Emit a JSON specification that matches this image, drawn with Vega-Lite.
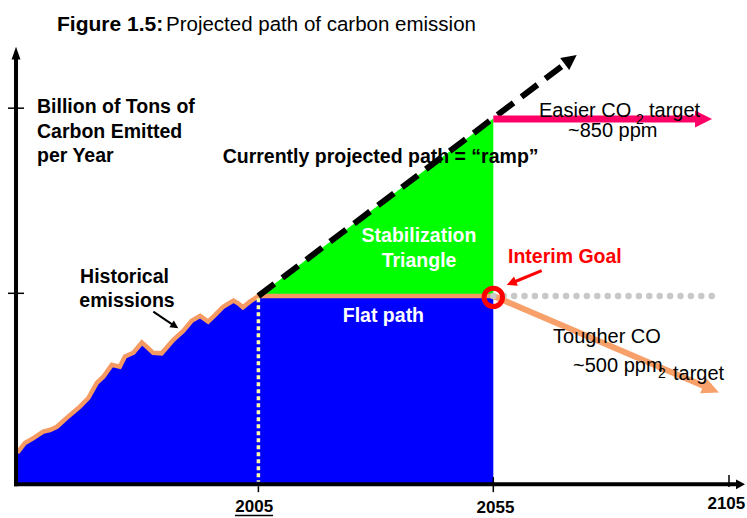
{
  "$schema": "https://vega.github.io/schema/vega-lite/v6.json",
  "width": 747,
  "height": 518,
  "autosize": {"type": "fit", "contains": "padding"},
  "padding": 0,
  "background": "white",
  "config": {"view": {"stroke": null}, "text": {"font": "Liberation Sans"}},
  "datasets": {
    "emissions": [
      {"x": 1953.7, "y": 1.18}, {"x": 1955.3, "y": 1.54}, {"x": 1957.1, "y": 1.72}, {"x": 1959.2, "y": 1.96},
      {"x": 1960.6, "y": 2.02}, {"x": 1962.1, "y": 2.14}, {"x": 1964.2, "y": 2.47}, {"x": 1967.0, "y": 2.89},
      {"x": 1968.8, "y": 3.21}, {"x": 1970.6, "y": 3.77}, {"x": 1972.0, "y": 4.0}, {"x": 1973.8, "y": 4.44},
      {"x": 1975.5, "y": 4.37}, {"x": 1976.6, "y": 4.75}, {"x": 1978.4, "y": 4.89}, {"x": 1980.2, "y": 5.27},
      {"x": 1981.2, "y": 5.12}, {"x": 1982.6, "y": 4.89}, {"x": 1984.4, "y": 4.87}, {"x": 1986.9, "y": 5.37},
      {"x": 1989.0, "y": 5.7}, {"x": 1990.8, "y": 6.08}, {"x": 1992.6, "y": 6.26}, {"x": 1994.3, "y": 6.05},
      {"x": 1995.8, "y": 6.3}, {"x": 1997.5, "y": 6.6}, {"x": 1999.7, "y": 6.83}, {"x": 2000.7, "y": 6.73},
      {"x": 2001.7, "y": 6.58}, {"x": 2003.2, "y": 6.79}, {"x": 2005, "y": 7.0}, {"x": 2055, "y": 7.0}
    ],
    "triangle": [{"x": 2005, "y": 7.0}, {"x": 2055, "y": 13.6}],
    "ramp": [{"x": 2005, "y": 7.0, "x2": 2071.05, "y2": 15.73}],
    "rampHead": [{"x": 2072.75, "y": 15.96}],
    "axes": [
      {"x": 1953.41, "y": -0.07, "x2": 1953.41, "y2": 15.88},
      {"x": 1953.0, "y": 0, "x2": 2106.9, "y2": 0}
    ],
    "yHead": [{"x": 1953.41, "y": 16.26}],
    "xHead": [{"x": 2108.58, "y": 0.0}],
    "ticks": [
      {"x": 1951.7, "y": 13.98, "x2": 1955.11, "y2": 13.98},
      {"x": 1951.7, "y": 7.1, "x2": 1955.11, "y2": 7.1},
      {"x": 2005, "y": -0.07, "x2": 2005, "y2": -0.29},
      {"x": 2055, "y": 0.27, "x2": 2055, "y2": -0.29},
      {"x": 2105.17, "y": 0.35, "x2": 2105.17, "y2": -0.1}
    ],
    "vdots": [{"x": 2005, "y": 6.92, "x2": 2005, "y2": 0.1}],
    "pink": [{"x": 2055, "y": 13.58, "x2": 2098.4, "y2": 13.58}],
    "pinkHead": [{"x": 2101.56, "y": 13.58}],
    "tough": [{"x": 2055, "y": 7.0, "x2": 2100.3, "y2": 3.62}],
    "toughHead": [{"x": 2103.04, "y": 3.41}],
    "gray": [{"x": 2055, "y": 7.0, "x2": 2101.6, "y2": 7.0}],
    "goal": [{"x": 2055, "y": 6.95}],
    "redArrow": [{"x": 2065.3, "y": 7.94, "x2": 2059.43, "y2": 7.52}],
    "redHead": [{"x": 2057.85, "y": 7.41}],
    "histArrow": [{"x": 1982.63, "y": 6.42, "x2": 1986.89, "y2": 5.92}],
    "histHead": [{"x": 1987.95, "y": 5.8}],
    "underline": [{"x": 2000.02, "y": -1.157, "x2": 2008.11, "y2": -1.157}],
    "tTitleBold": [{"x": 1962.13, "y": 16.83, "text": "Figure 1.5:"}],
    "tTitle": [{"x": 1985.33, "y": 16.83, "text": "Projected path of carbon emission"}],
    "tBoldLeft": [
      {"x": 1957.88, "y": 13.789, "text": "Billion of Tons of"},
      {"x": 1957.88, "y": 12.879, "text": "Carbon Emitted"},
      {"x": 1957.88, "y": 11.968, "text": "per Year"},
      {"x": 1997.4, "y": 11.931, "text": "Currently projected path = “ramp”"}
    ],
    "tNormLeft": [
      {"x": 2064.73, "y": 13.663, "text": "Easier CO"},
      {"x": 2088.14, "y": 13.663, "text": "target"},
      {"x": 2070.9, "y": 12.909, "text": "~850 ppm"},
      {"x": 2067.71, "y": 5.242, "text": "Tougher CO"},
      {"x": 2071.97, "y": 4.187, "text": "~500 ppm"},
      {"x": 2093.25, "y": 3.879, "text": "target"}
    ],
    "tSub": [
      {"x": 2085.38, "y": 13.392, "text": "2"},
      {"x": 2090.06, "y": 3.953, "text": "2"}
    ],
    "tWhite": [
      {"x": 2039.19, "y": 9.018, "text": "Stabilization"},
      {"x": 2039.19, "y": 8.089, "text": "Triangle"},
      {"x": 2031.61, "y": 6.045, "text": "Flat path"}
    ],
    "tBlackCenter": [
      {"x": 1976.5, "y": 7.494, "text": "Historical"},
      {"x": 1977.03, "y": 6.58, "text": "emissions"}
    ],
    "tRed": [{"x": 2058.13, "y": 8.237, "text": "Interim Goal"}],
    "tAxis": [
      {"x": 2004.11, "y": -1.016, "text": "2005"},
      {"x": 2055.47, "y": -1.075, "text": "2055"},
      {"x": 2104.6, "y": -0.916, "text": "2105"}
    ]
  },
  "encoding": {
    "x": {"field": "x", "type": "quantitative", "scale": {"domain": [1950, 2109], "nice": false, "zero": false}, "axis": null},
    "y": {"field": "y", "type": "quantitative", "scale": {"domain": [-1.25, 18], "nice": false, "zero": false}, "axis": null}
  },
  "layer": [
    {"data": {"name": "emissions"}, "mark": {"type": "area", "color": "#0000FF"}, "encoding": {"y2": {"datum": 0}}},
    {"data": {"name": "triangle"}, "mark": {"type": "area", "color": "#00FF00"}, "encoding": {"y2": {"datum": 7}}},
    {"data": {"name": "emissions"}, "mark": {"type": "line", "color": "#F49A62", "strokeWidth": 4.5}},
    {"data": {"name": "ramp"}, "mark": {"type": "rule", "color": "black", "strokeWidth": 6, "strokeDash": [20, 10]}, "encoding": {"x2": {"field": "x2"}, "y2": {"field": "y2"}}},
    {"data": {"name": "rampHead"}, "mark": {"type": "point", "shape": "M0,0L-2,-1L-2,1Z", "size": 225, "angle": -37, "filled": true, "color": "black", "opacity": 1}},
    {"data": {"name": "vdots"}, "mark": {"type": "rule", "color": "#FFFFA8", "strokeWidth": 3.5, "strokeDash": [4, 3]}, "encoding": {"x2": {"field": "x2"}, "y2": {"field": "y2"}}},
    {"data": {"name": "axes"}, "mark": {"type": "rule", "color": "black", "strokeWidth": 4}, "encoding": {"x2": {"field": "x2"}, "y2": {"field": "y2"}}},
    {"data": {"name": "ticks"}, "mark": {"type": "rule", "color": "black", "strokeWidth": 1.5}, "encoding": {"x2": {"field": "x2"}, "y2": {"field": "y2"}}},
    {"data": {"name": "yHead"}, "mark": {"type": "point", "shape": "M0,0L-2,-0.7L-2,0.7Z", "size": 160, "angle": -90, "filled": true, "color": "black", "opacity": 1}},
    {"data": {"name": "xHead"}, "mark": {"type": "point", "shape": "M0,0L-2,-1.1L-2,1.1Z", "size": 81, "angle": 0, "filled": true, "color": "black", "opacity": 1}},
    {"data": {"name": "pink"}, "mark": {"type": "rule", "color": "#FF0066", "strokeWidth": 7}, "encoding": {"x2": {"field": "x2"}, "y2": {"field": "y2"}}},
    {"data": {"name": "pinkHead"}, "mark": {"type": "point", "shape": "M0,0L-2,-1L-2,1Z", "size": 289, "angle": 0, "filled": true, "color": "#FF0066", "opacity": 1}},
    {"data": {"name": "tough"}, "mark": {"type": "rule", "color": "#F7A06A", "strokeWidth": 6}, "encoding": {"x2": {"field": "x2"}, "y2": {"field": "y2"}}},
    {"data": {"name": "toughHead"}, "mark": {"type": "point", "shape": "M0,0L-2,-0.95L-2,0.95Z", "size": 289, "angle": 23.4, "filled": true, "color": "#F7A06A", "opacity": 1}},
    {"data": {"name": "gray"}, "mark": {"type": "rule", "color": "#C8C8C8", "strokeWidth": 6.5, "strokeCap": "round", "strokeDash": [0, 10.4]}, "encoding": {"x2": {"field": "x2"}, "y2": {"field": "y2"}}},
    {"data": {"name": "goal"}, "mark": {"type": "point", "shape": "circle", "size": 340, "filled": false, "color": "#FF0000", "strokeWidth": 5, "opacity": 1}},
    {"data": {"name": "redArrow"}, "mark": {"type": "rule", "color": "#FF0000", "strokeWidth": 3}, "encoding": {"x2": {"field": "x2"}, "y2": {"field": "y2"}}},
    {"data": {"name": "redHead"}, "mark": {"type": "point", "shape": "M0,0L-2,-1L-2,1Z", "size": 100, "angle": 157.8, "filled": true, "color": "#FF0000", "opacity": 1}},
    {"data": {"name": "histArrow"}, "mark": {"type": "rule", "color": "black", "strokeWidth": 2}, "encoding": {"x2": {"field": "x2"}, "y2": {"field": "y2"}}},
    {"data": {"name": "histHead"}, "mark": {"type": "point", "shape": "M0,0L-2,-1L-2,1Z", "size": 64, "angle": 33.6, "filled": true, "color": "black", "opacity": 1}},
    {"data": {"name": "underline"}, "mark": {"type": "rule", "color": "black", "strokeWidth": 1.5}, "encoding": {"x2": {"field": "x2"}, "y2": {"field": "y2"}}},
    {"data": {"name": "tTitleBold"}, "mark": {"type": "text", "align": "left", "baseline": "alphabetic", "fontSize": 21, "fontWeight": "bold", "color": "black"}, "encoding": {"text": {"field": "text"}}},
    {"data": {"name": "tTitle"}, "mark": {"type": "text", "align": "left", "baseline": "alphabetic", "fontSize": 20.5, "color": "black"}, "encoding": {"text": {"field": "text"}}},
    {"data": {"name": "tBoldLeft"}, "mark": {"type": "text", "align": "left", "baseline": "alphabetic", "fontSize": 19.5, "fontWeight": "bold", "color": "black"}, "encoding": {"text": {"field": "text"}}},
    {"data": {"name": "tNormLeft"}, "mark": {"type": "text", "align": "left", "baseline": "alphabetic", "fontSize": 20, "color": "black"}, "encoding": {"text": {"field": "text"}}},
    {"data": {"name": "tSub"}, "mark": {"type": "text", "align": "left", "baseline": "alphabetic", "fontSize": 14, "color": "black"}, "encoding": {"text": {"field": "text"}}},
    {"data": {"name": "tWhite"}, "mark": {"type": "text", "align": "center", "baseline": "alphabetic", "fontSize": 19.5, "fontWeight": "bold", "color": "white"}, "encoding": {"text": {"field": "text"}}},
    {"data": {"name": "tBlackCenter"}, "mark": {"type": "text", "align": "center", "baseline": "alphabetic", "fontSize": 19.5, "fontWeight": "bold", "color": "black"}, "encoding": {"text": {"field": "text"}}},
    {"data": {"name": "tRed"}, "mark": {"type": "text", "align": "left", "baseline": "alphabetic", "fontSize": 19.5, "fontWeight": "bold", "color": "#FF0000"}, "encoding": {"text": {"field": "text"}}},
    {"data": {"name": "tAxis"}, "mark": {"type": "text", "align": "center", "baseline": "alphabetic", "fontSize": 17, "fontWeight": "bold", "color": "black"}, "encoding": {"text": {"field": "text"}}}
  ]
}
